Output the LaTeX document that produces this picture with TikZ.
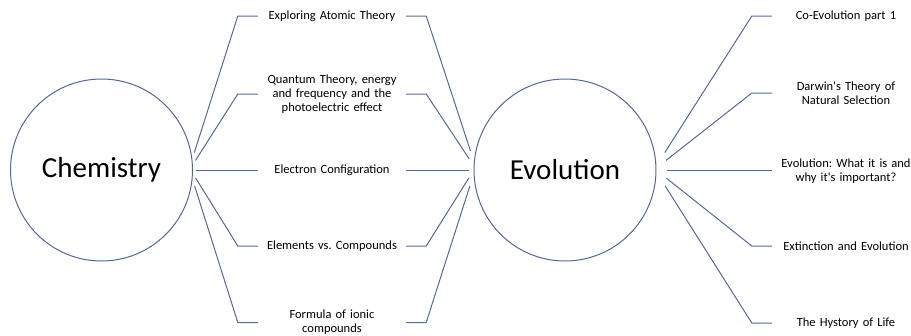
\documentclass[tikz,border=0pt]{standalone}
\usepackage{fontspec}
\setmainfont{Carlito}
\usepackage{tikz}
\usetikzlibrary{positioning, calc}
\usepackage{xcolor}
\definecolor{linkblue}{RGB}{84,104,160}
\frenchspacing

\begin{document}
\begin{tikzpicture}[
    x=1pt, y=-1pt,
    topic/.style={circle, draw=linkblue, line width=1pt, minimum size=182pt, inner sep=0pt, font=\fontsize{29}{34}\selectfont},
    lesson/.style={text width=148pt, inner sep=0pt, align=center, font=\fontsize{12.5}{14}\selectfont},
    link/.style={draw=linkblue, line width=1pt}
]
    \useasboundingbox (0,0) rectangle (911,335);

    \node[topic] (chem) at (101.5,170) {Chemistry};
    \node[topic] (evo) at (565,170) {Evolution};

    % chemistry lessons
    \node[lesson] (atomic) at (332,16) {Exploring Atomic Theory};
    \node[lesson] (quantum) at (332,94) {Quantum Theory, energy\\ and frequency and the\\ photoelectric effect};
    \node[lesson] (electron) at (332,170) {Electron Configuration};
    \node[lesson] (elements) at (332,246) {Elements vs. Compounds};
    \node[lesson] (ionic) at (332,322.5) {Formula of ionic\\ compounds};

    % evolution lessons
    \node[lesson] (coevo) at (846,16) {Co-Evolution part 1};
    \node[lesson] (darwin) at (846,93) {Darwin\textquotesingle s Theory of\\ Natural Selection};
    \node[lesson] (whatis) at (846,171) {Evolution: What it is and\\ why it\textquotesingle s important?};
    \node[lesson] (extinct) at (846,246) {Extinction and Evolution};
    \node[lesson] (history) at (846,323) {The Hystory of Life};

    \draw[link] ([xshift=3pt]chem.11.4) -- ([xshift=-20pt]atomic.west) -- (atomic.west);
    \draw[link] ([xshift=3pt]chem.6.3) -- ([xshift=-20pt]quantum.west) -- (quantum.west);
    \draw[link] ([xshift=3pt]chem.0) -- (electron.west);
    \draw[link] ([xshift=3pt]chem.-5) -- ([xshift=-20pt]elements.west) -- (elements.west);
    \draw[link] ([xshift=3pt]chem.-10.8) -- ([xshift=-20pt]ionic.west) -- (ionic.west);

    \draw[link] (atomic.east) -- ([xshift=20pt]atomic.east) -- ([xshift=-5pt]evo.168.6);
    \draw[link] (quantum.east) -- ([xshift=20pt]quantum.east) -- ([xshift=-5pt]evo.173.7);
    \draw[link] (electron.east) -- ([xshift=-5pt]evo.180);
    \draw[link] (elements.east) -- ([xshift=20pt]elements.east) -- ([xshift=-5pt]evo.185);
    \draw[link] (ionic.east) -- ([xshift=20pt]ionic.east) -- ([xshift=-5pt]evo.190.8);

    \draw[link] ([xshift=10pt]evo.11.4) -- ([xshift=-20pt]coevo.west) -- (coevo.west);
    \draw[link] ([xshift=10pt]evo.6.3) -- ([xshift=-20pt]darwin.west) -- (darwin.west);
    \draw[link] ([xshift=10pt]evo.0) -- (whatis.west |- evo.0);
    \draw[link] ([xshift=10pt]evo.-5) -- ([xshift=-20pt]extinct.west) -- (extinct.west);
    \draw[link] ([xshift=10pt]evo.-10.8) -- ([xshift=-20pt]history.west) -- (history.west);
\end{tikzpicture}
\end{document}
